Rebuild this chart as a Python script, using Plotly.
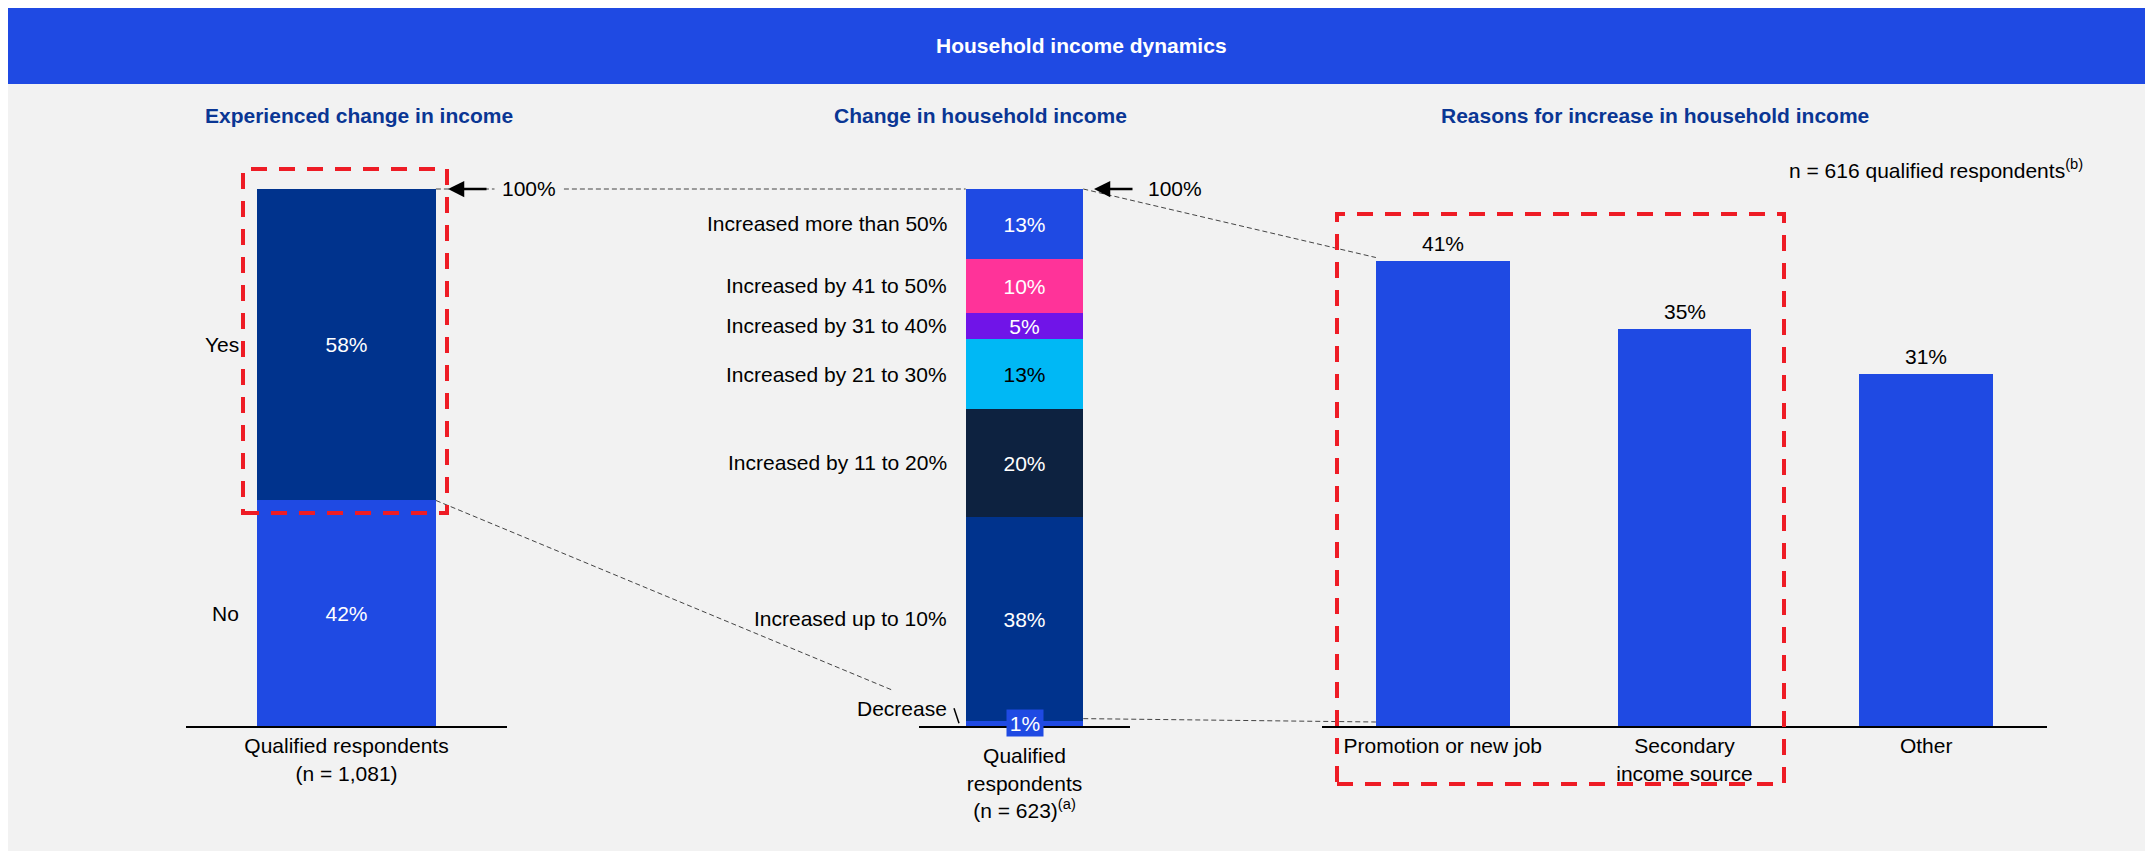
import plotly.graph_objects as go

# ---------------- data ----------------
title_text = "Household income dynamics"
subtitles = ["Experienced change in income", "Change in household income",
             "Reasons for increase in household income"]

left_categories = ["Qualified respondents<br>(n = 1,081)"]
left_series = ["No", "Yes"]
left_values = [42, 58]

mid_categories = ["Qualified<br>respondents<br>(n = 623)<sup>(a)</sup>"]
mid_series = ["Decrease", "Increased up to 10%", "Increased by 11 to 20%",
              "Increased by 21 to 30%", "Increased by 31 to 40%",
              "Increased by 41 to 50%", "Increased more than 50%"]
mid_values = [1, 38, 20, 13, 5, 10, 13]

right_categories = ["Promotion or new job", "Secondary<br>income source", "Other"]
right_values = [41, 35, 31]
right_note = "n = 616 qualified respondents<sup>(b)</sup>"
total_label = "100%"

# ---------------- styles ----------------
FONT = "Arial, Liberation Sans, sans-serif"
BG = "#f2f2f2"
BRIGHT = "#1f4ae3"
DARK = "#00338d"
NAVY = "#0d2240"
PINK = "#ff3399"
PURPLE = "#7014e8"
CYAN = "#00b8f5"
SUBT = "#0a3694"
RED = "#ee1c25"
FS = 21

left_colors = [BRIGHT, DARK]
mid_colors = [BRIGHT, DARK, NAVY, CYAN, PURPLE, PINK, BRIGHT]
mid_text_colors = ["white", "white", "white", "black", "white", "white", "white"]

# page geometry (pixels) -> paper
OX, OY, W, H = 8, 8, 2145, 843
def px_x(X):
    return (X - OX) / W
def px_y(Y):
    return 1 - (Y - OY) / H

Y_TOP, Y_BOT = 189, 726
X1 = (186, 507)
X2 = (919, 1130)
X3 = (1322, 2047)
R12 = 100
R3 = 47.3
BW = 0.557
BW3 = 0.554

def ypage(v, rmax):
    return Y_BOT - (Y_BOT - Y_TOP) * v / rmax
def xpage(dom, v, n):
    return dom[0] + (v + 0.5) / n * (dom[1] - dom[0])

dom_y = [px_y(Y_BOT), px_y(Y_TOP)]

fig = go.Figure()

# left stacked bar
for s, v, c in zip(left_series, left_values, left_colors):
    fig.add_trace(go.Bar(
        x=left_categories, y=[v], name=s, marker=dict(color=c, line=dict(width=0)),
        width=BW, text=[f"{v}%"], textposition="inside", insidetextanchor="middle",
        textangle=0, constraintext="none",
        textfont=dict(color="white", size=FS, family=FONT),
        xaxis="x", yaxis="y", hoverinfo="skip", showlegend=False))

# middle stacked bar
for i, (s, v, c, tc) in enumerate(zip(mid_series, mid_values, mid_colors, mid_text_colors)):
    fig.add_trace(go.Bar(
        x=mid_categories, y=[v], name=s, marker=dict(color=c, line=dict(width=0)),
        width=BW, text=[f"{v}%"], textposition="none" if i == 0 else "inside",
        insidetextanchor="middle", textangle=0, constraintext="none",
        textfont=dict(color=tc, size=FS, family=FONT),
        xaxis="x2", yaxis="y2", hoverinfo="skip", showlegend=False))

# right bars
fig.add_trace(go.Bar(
    x=right_categories, y=right_values, marker=dict(color=BRIGHT, line=dict(width=0)),
    width=BW3, textposition="none",
    xaxis="x3", yaxis="y3", hoverinfo="skip", showlegend=False))

shapes = []
annotations = []

def txt(text, x, y, xref="paper", yref="paper", xanchor="center", yanchor="middle",
        color="black", **kw):
    d = dict(text=text, xref=xref, yref=yref, x=x, y=y, xanchor=xanchor,
             yanchor=yanchor, showarrow=False,
             font=dict(color=color, size=FS, family=FONT))
    d.update(kw)
    return d

# right bar value labels
for c, v in zip(right_categories, right_values):
    annotations.append(txt(f"{v}%", c, v, xref="x3", yref="y3", yanchor="bottom",
                           yshift=4))

# banner
shapes.append(dict(type="rect", xref="paper", yref="paper", x0=0, x1=1,
                   y0=px_y(84), y1=1, fillcolor=BRIGHT, line=dict(width=0), layer="below"))
annotations.append(txt(f"<b>{title_text}</b>", px_x(1081), px_y(46), color="white"))
# subtitles
for t, cx in zip(subtitles, [359, 980, 1655]):
    annotations.append(txt(f"<b>{t}</b>", px_x(cx), px_y(115), color=SUBT))

# left labels Yes / No
cum = 0
for s, v in zip(left_series, left_values):
    annotations.append(txt(s, px_x(241), cum + v / 2, yref="y", xanchor="right"))
    cum += v

# middle labels
cum = 0
for i, (s, v) in enumerate(zip(mid_series, mid_values)):
    annotations.append(txt(s, px_x(949), cum + v / 2, yref="y2", xanchor="right",
                           yshift=15 if i == 0 else 0))
    cum += v

# 1% boxed label
annotations.append(txt(f"{mid_values[0]}%", 0, mid_values[0] / 2, xref="x2", yref="y2",
                       color="white", bgcolor=BRIGHT, width=34, height=24, borderpad=1))
# leader for Decrease
yd = ypage(mid_values[0] / 2, R12)
shapes.append(dict(type="line", xref="paper", yref="paper",
                   x0=px_x(954), y0=px_y(yd - 15), x1=px_x(959), y1=px_y(yd),
                   line=dict(color="black", width=1.5)))

# right note
annotations.append(txt(right_note, px_x(2085), px_y(169), xanchor="right"))

# connectors (dashed)
GL = dict(color="#444444", width=1, dash="5px,3px")
l_right = xpage(X1, BW / 2, 1)
m_left = xpage(X2, -BW / 2, 1)
m_right = xpage(X2, BW / 2, 1)
r_left = xpage(X3, -BW3 / 2, 3)
shapes.append(dict(type="line", xref="paper", yref="paper",
                   x0=px_x(l_right), y0=px_y(ypage(100, R12)),
                   x1=px_x(m_left), y1=px_y(ypage(100, R12)), line=GL))
ys = ypage(left_values[0], R12)
ye = ypage(mid_values[0], R12)
t = 0.862
shapes.append(dict(type="line", xref="paper", yref="paper",
                   x0=px_x(l_right), y0=px_y(ys),
                   x1=px_x(l_right + t * (m_left - l_right)), y1=px_y(ys + t * (ye - ys)),
                   line=GL))
shapes.append(dict(type="line", xref="paper", yref="paper",
                   x0=px_x(m_right), y0=px_y(ypage(100, R12)),
                   x1=px_x(r_left), y1=px_y(ypage(right_values[0], R3) - 3), line=GL))
shapes.append(dict(type="line", xref="paper", yref="paper",
                   x0=px_x(m_right), y0=px_y(ypage(mid_values[0], R12) - 2),
                   x1=px_x(r_left), y1=px_y(Y_BOT - 4), line=GL))

# 100% arrows
for xt, yr in [(448, "y"), (1094, "y2")]:
    annotations.append(dict(text="", xref="paper", yref=yr, x=px_x(xt), y=100,
                            ax=40, ay=0, showarrow=True, arrowhead=2, arrowsize=1.3,
                            arrowwidth=2.5, arrowcolor="black"))
annotations.append(txt(total_label, px_x(494), 100, yref="y", xanchor="left",
                       bgcolor=BG, borderpad=7))
annotations.append(txt(total_label, px_x(1146), 100, yref="y2", xanchor="left"))

# red dashed boxes
RL = dict(color=RED, width=4, dash="16px,12px")
shapes.append(dict(type="rect", xref="paper", yref="paper", x0=px_x(243), x1=px_x(447),
                   y0=px_y(513), y1=px_y(169), line=RL))
shapes.append(dict(type="rect", xref="paper", yref="paper", x0=px_x(1337), x1=px_x(1784),
                   y0=px_y(784), y1=px_y(214), line=RL))

xcommon = dict(showline=True, linecolor="black", linewidth=2, ticks="", showgrid=False,
               zeroline=False, fixedrange=True,
               tickfont=dict(color="black", size=FS, family=FONT))
ycommon = dict(visible=False, showgrid=False, zeroline=False, fixedrange=True,
               domain=dom_y)

fig.update_layout(
    width=W, height=H, margin=dict(l=0, r=0, t=0, b=0),
    paper_bgcolor=BG, plot_bgcolor="rgba(0,0,0,0)",
    barmode="stack", bargap=0, showlegend=False,
    font=dict(family=FONT, size=FS, color="black"),
    xaxis=dict(domain=[px_x(X1[0]), px_x(X1[1])], anchor="y", **xcommon),
    yaxis=dict(range=[0, R12], anchor="x", **ycommon),
    xaxis2=dict(domain=[px_x(X2[0]), px_x(X2[1])], anchor="y2", ticklabelstandoff=10,
                **xcommon),
    yaxis2=dict(range=[0, R12], anchor="x2", **ycommon),
    xaxis3=dict(domain=[px_x(X3[0]), px_x(X3[1])], anchor="y3", **xcommon),
    yaxis3=dict(range=[0, R3], anchor="x3", **ycommon),
    shapes=shapes, annotations=annotations,
)

fig.write_html("out.html")
